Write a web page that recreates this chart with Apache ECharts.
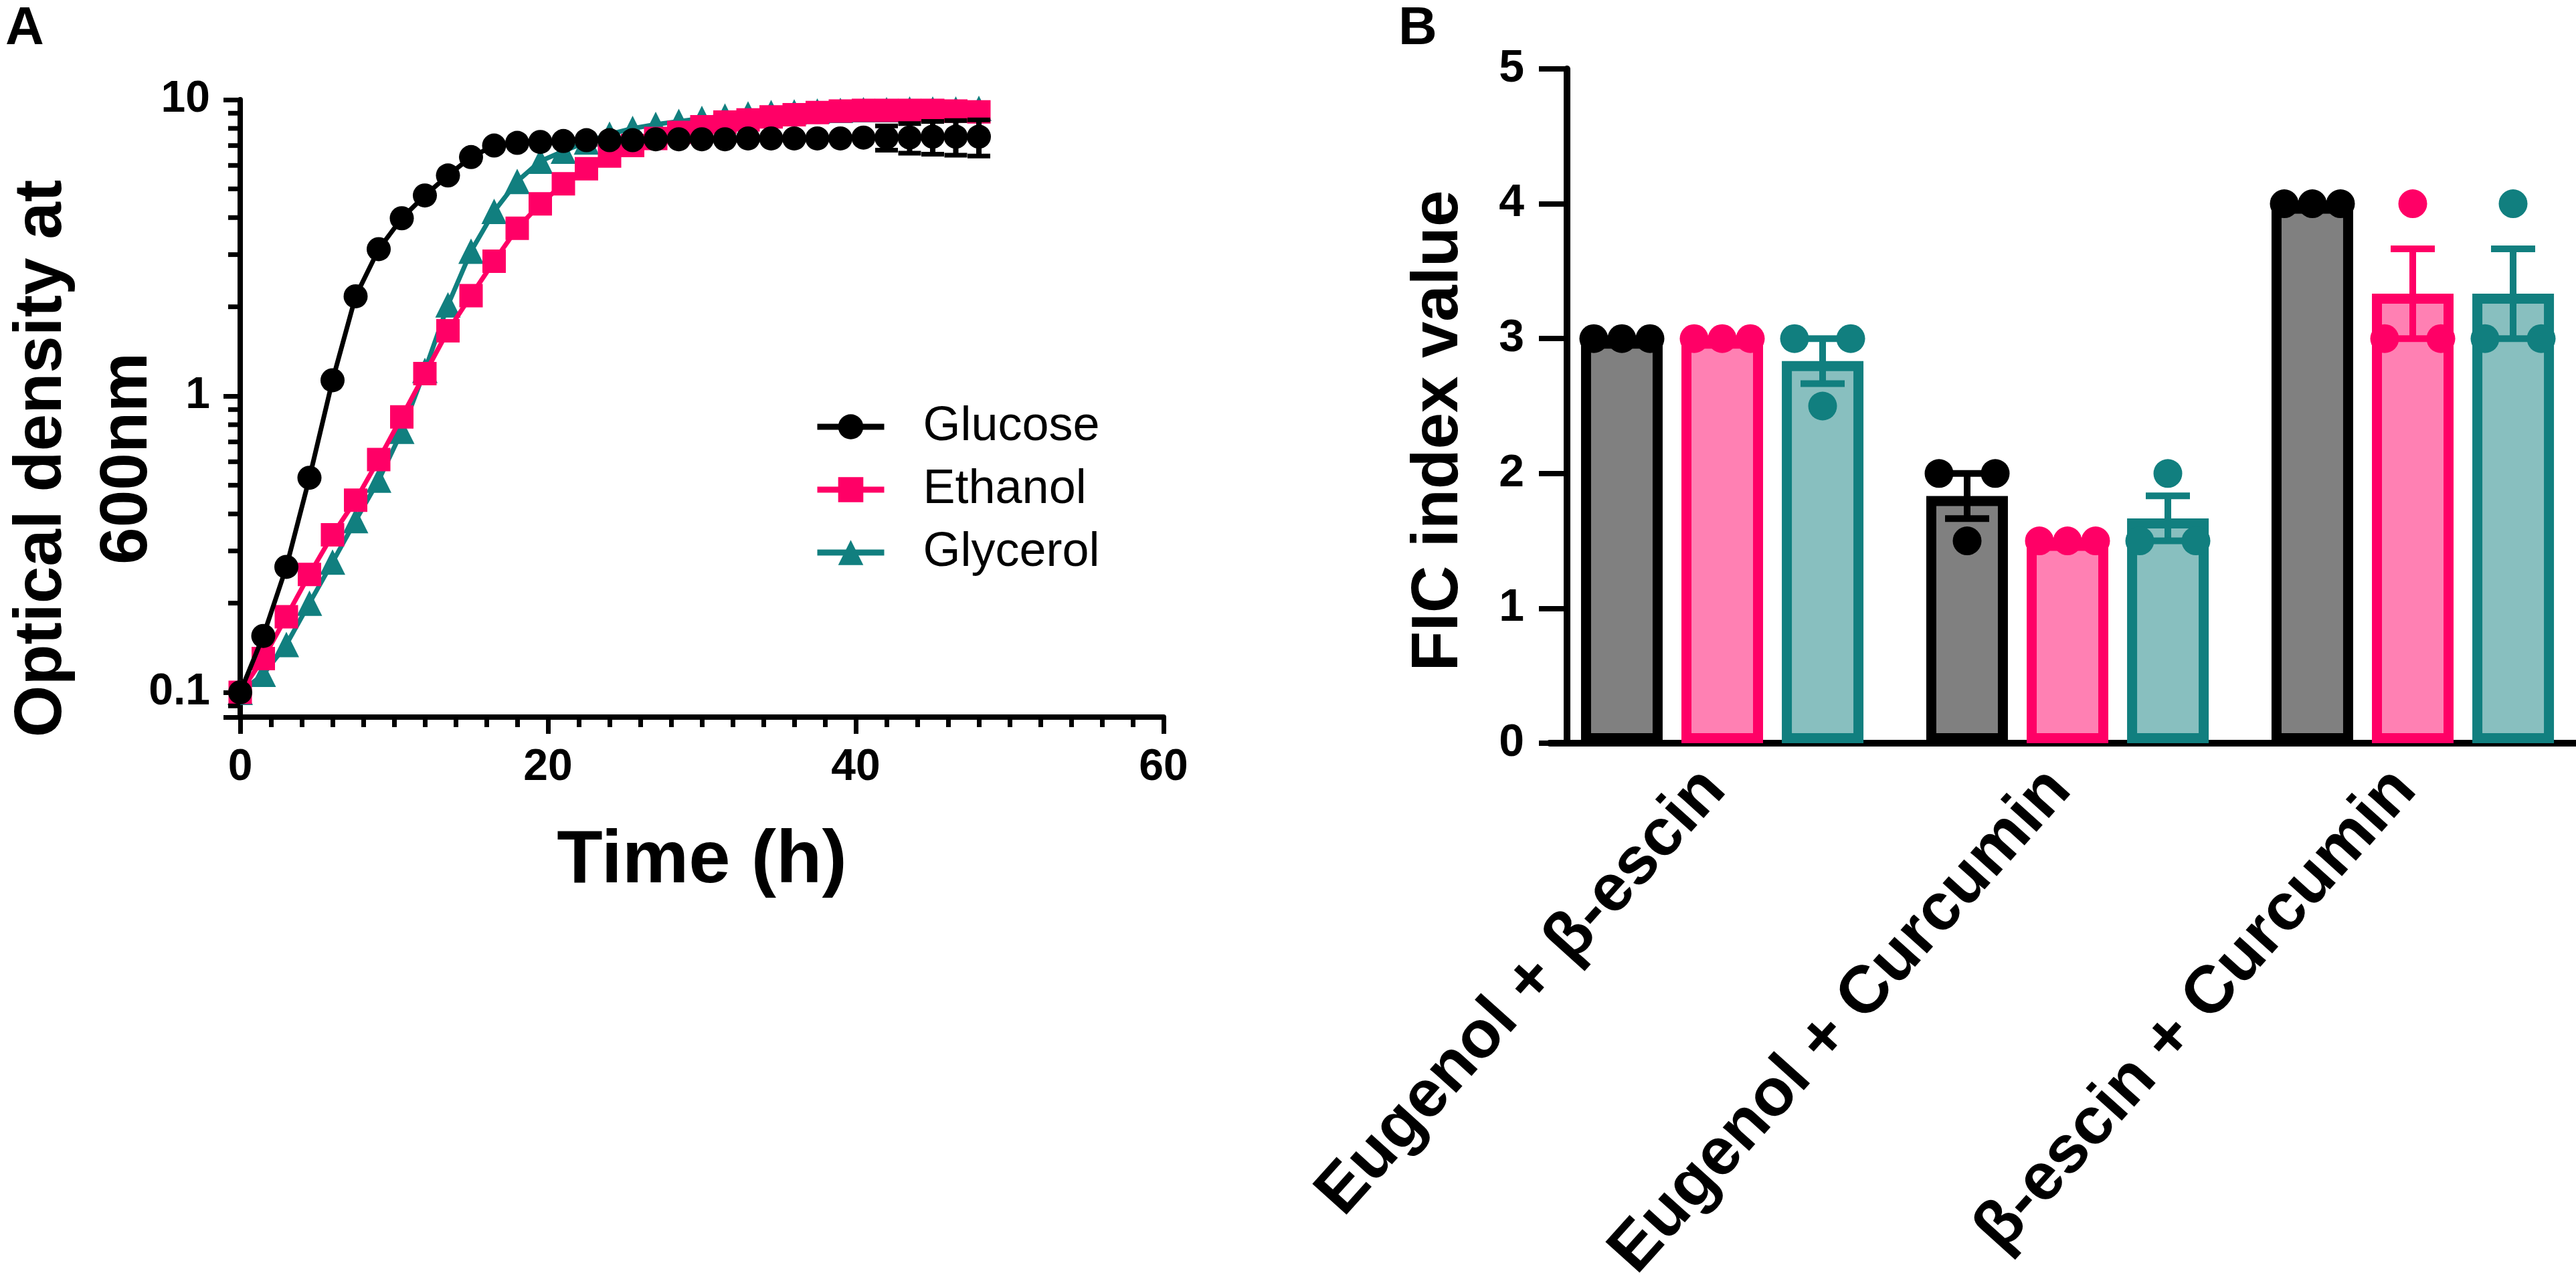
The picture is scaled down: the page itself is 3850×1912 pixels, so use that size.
<!DOCTYPE html>
<html>
<head>
<meta charset="utf-8">
<title>Growth curves and FIC index</title>
<script src="https://cdn.jsdelivr.net/npm/echarts@6/dist/echarts.min.js"></script>
<style>
  html, body { margin: 0; padding: 0; background: #fff; }
  #chart { width: 3850px; height: 1912px; }
</style>
</head>
<body>
<div id="chart"></div>
<script>
// ---- panel A: growth curves (OD600, log scale) ----
var time = [0, 1.5, 3, 4.5, 6, 7.5, 9, 10.5, 12, 13.5, 15, 16.5, 18, 19.5, 21, 22.5, 24,
            25.5, 27, 28.5, 30, 31.5, 33, 34.5, 36, 37.5, 39, 40.5, 42, 43.5, 45, 46.5, 48];
var glucose = [0.1, 0.155, 0.265, 0.53, 1.13, 2.17, 3.13, 3.98, 4.75, 5.55, 6.4, 7.0, 7.15,
               7.2, 7.25, 7.3, 7.3, 7.3, 7.35, 7.35, 7.35, 7.35, 7.4, 7.4, 7.4, 7.4, 7.4,
               7.45, 7.45, 7.45, 7.5, 7.5, 7.5];
var ethanol = [0.1, 0.13, 0.18, 0.25, 0.34, 0.445, 0.61, 0.85, 1.19, 1.66, 2.18, 2.85, 3.68,
               4.45, 5.2, 5.85, 6.45, 7.0, 7.4, 7.75, 8.1, 8.4, 8.55, 8.75, 8.9, 9.05, 9.15,
               9.2, 9.2, 9.2, 9.2, 9.15, 9.1];
var glycerol = [0.1, 0.115, 0.145, 0.2, 0.275, 0.38, 0.52, 0.76, 1.22, 2.03, 3.08, 4.2, 5.3,
                6.2, 6.7, 7.2, 7.65, 8.0, 8.25, 8.45, 8.65, 8.8, 8.95, 9.05, 9.1, 9.15, 9.2,
                9.25, 9.25, 9.3, 9.3, 9.3, 9.35];
// error bars visible on the last glucose points
var glucoseErrTime = [42, 43.5, 45, 46.5, 48];
var glucoseErr = [0.7, 0.85, 0.95, 1.0, 1.05];

var odTickLabels = [0.1, 1, 10];
var odMinorTicks = [0.09, 0.2, 0.3, 0.4, 0.5, 0.6, 0.7, 0.8, 0.9, 2, 3, 4, 5, 6, 7, 8, 9];

// ---- panel B: FIC index ----
var combos = ['Eugenol + β-escin', 'Eugenol + Curcumin', 'β-escin + Curcumin'];
var ficGlucoseMean = [3, 1.833, 4];
var ficGlucoseSem = [0, 0.167, 0];
var ficEthanolMean = [3, 1.5, 3.333];
var ficEthanolSem = [0, 0, 0.333];
var ficGlycerolMean = [2.833, 1.667, 3.333];
var ficGlycerolSem = [0.167, 0.167, 0.333];
// replicates, in left / centre / right order inside each bar
var ficGlucoseReps = [[3, 3, 3], [2, 1.5, 2], [4, 4, 4]];
var ficEthanolReps = [[3, 3, 3], [1.5, 1.5, 1.5], [3, 4, 3]];
var ficGlycerolReps = [[3, 2.5, 3], [1.5, 2, 1.5], [3, 4, 3]];

var FONT = "'Liberation Sans', Arial, sans-serif";
var BLACK = '#000000';
var PINK = '#ff0066';
var TEAL = '#117f7f';
var groupColors = [BLACK, PINK, TEAL];
var BAR_W = 122;
var BAR_STEP = 150;
var JITTER = 42;

function pairs(xs, ys) {
    return xs.map(function (x, i) { return [x, ys[i]]; });
}

var glucoseErrData = glucoseErrTime.map(function (t, i) {
    return [t, glucose[time.indexOf(t)], glucoseErr[i]];
});

var dotData = [];
[ficGlucoseReps, ficEthanolReps, ficGlycerolReps].forEach(function (reps, s) {
    reps.forEach(function (r, c) {
        r.forEach(function (v, j) {
            dotData.push([c, v, s, j]);
        });
    });
});

var semData = [];
[[ficGlucoseMean, ficGlucoseSem], [ficEthanolMean, ficEthanolSem], [ficGlycerolMean, ficGlycerolSem]]
    .forEach(function (g, s) {
        g[0].forEach(function (m, c) {
            if (g[1][c] > 0) {
                semData.push([c, m, g[1][c], s]);
            }
        });
    });

function vline(x, y1, y2, color, w) {
    return {type: 'line', shape: {x1: x, y1: y1, x2: x, y2: y2}, style: {stroke: color, lineWidth: w}};
}
function hline(x1, x2, y, color, w) {
    return {type: 'line', shape: {x1: x1, y1: y, x2: x2, y2: y}, style: {stroke: color, lineWidth: w}};
}

var option = {
    backgroundColor: '#ffffff',
    animation: false,
    textStyle: {fontFamily: FONT},
    graphic: [
        {type: 'text', left: 8, top: 4, style: {text: 'A', font: 'bold 80px ' + FONT, fill: '#000'}},
        {type: 'text', left: 2090, top: 4, style: {text: 'B', font: 'bold 80px ' + FONT, fill: '#000'}}
    ],
    legend: {
        data: ['Glucose', 'Ethanol', 'Glycerol'],
        orient: 'vertical',
        left: 1212,
        top: 597,
        itemWidth: 100,
        itemHeight: 47,
        itemGap: 22,
        selectedMode: false,
        lineStyle: {width: 9},
        textStyle: {fontSize: 72, color: '#000', fontFamily: FONT, padding: [0, 0, 0, 53]}
    },
    grid: [
        {left: 359, top: 149, width: 1380, height: 923, outerBoundsMode: 'none'},
        {left: 2316, top: 103, width: 1548, height: 1008, outerBoundsMode: 'none'}
    ],
    xAxis: [
        {
            type: 'value', gridIndex: 0, min: 0, max: 60, interval: 20,
            name: 'Time (h)', nameLocation: 'middle', nameGap: 160, nameMoveOverlap: false,
            nameTextStyle: {fontSize: 112, fontWeight: 'bold', color: '#000', fontFamily: FONT},
            axisLine: {onZero: false, lineStyle: {color: '#000', width: 8}},
            axisTick: {length: 25, lineStyle: {color: '#000', width: 7}},
            minorTick: {show: true, splitNumber: 10, length: 15, lineStyle: {color: '#000', width: 7}},
            splitLine: {show: false},
            axisLabel: {fontSize: 66, fontWeight: 'bold', color: '#000', margin: 43, fontFamily: FONT}
        },
        {
            type: 'category', gridIndex: 1, data: combos, boundaryGap: true,
            axisLine: {lineStyle: {color: '#000', width: 10}},
            axisTick: {alignWithLabel: true, length: 43, lineStyle: {color: '#000', width: 8}},
            splitLine: {show: false},
            axisLabel: {
                rotate: 48, interval: 0, fontSize: 100, fontWeight: 'bold', color: '#000',
                margin: 40, padding: [0, 18, 0, 0], fontFamily: FONT
            }
        }
    ],
    yAxis: [
        {
            type: 'log', gridIndex: 0, logBase: 10, min: 0.0825, max: 10,
            name: 'Optical density at\n600nm', nameLocation: 'middle', nameGap: 104, nameRotate: 90,
            nameMoveOverlap: false,
            nameTextStyle: {
                fontSize: 100, fontWeight: 'bold', color: '#000', lineHeight: 128,
                padding: [0, 150, 0, 0], fontFamily: FONT
            },
            axisLine: {lineStyle: {color: '#000', width: 8}},
            axisTick: {length: 25, lineStyle: {color: '#000', width: 7}},
            splitLine: {show: false},
            axisLabel: {
                fontSize: 66, fontWeight: 'bold', color: '#000', margin: 45, fontFamily: FONT,
                formatter: function (v) {
                    for (var i = 0; i < odTickLabels.length; i++) {
                        if (Math.abs(v - odTickLabels[i]) / odTickLabels[i] < 1e-6) {
                            return String(odTickLabels[i]);
                        }
                    }
                    return '';
                }
            }
        },
        {
            type: 'value', gridIndex: 1, min: 0, max: 5, interval: 1, offset: -26,
            name: 'FIC index value', nameLocation: 'middle', nameGap: 142, nameRotate: 90,
            nameMoveOverlap: false,
            nameTextStyle: {
                fontSize: 98, fontWeight: 'bold', color: '#000',
                padding: [0, 74, 0, 0], fontFamily: FONT
            },
            axisLine: {show: true, lineStyle: {color: '#000', width: 10}},
            axisTick: {show: true, length: 42, lineStyle: {color: '#000', width: 8}},
            splitLine: {show: false},
            axisLabel: {fontSize: 68, fontWeight: 'bold', color: '#000', margin: 64, fontFamily: FONT}
        }
    ],
    series: [
        // log-axis minor ticks (2..9 per decade)
        {
            type: 'custom', xAxisIndex: 0, yAxisIndex: 0, silent: true, clip: false, z: 5,
            data: odMinorTicks.map(function (v) { return [0, v]; }),
            encode: {x: 0, y: 1},
            renderItem: function (params, api) {
                var p = api.coord([0, api.value(1)]);
                return hline(p[0] - 18, p[0], p[1], '#000', 7);
            }
        },
        {
            name: 'Glycerol', type: 'line', xAxisIndex: 0, yAxisIndex: 0, z: 2,
            data: pairs(time, glycerol), symbol: 'triangle', symbolSize: 38,
            itemStyle: {color: TEAL}, lineStyle: {color: TEAL, width: 7}
        },
        {
            name: 'Ethanol', type: 'line', xAxisIndex: 0, yAxisIndex: 0, z: 3,
            data: pairs(time, ethanol), symbol: 'rect', symbolSize: 35,
            itemStyle: {color: PINK}, lineStyle: {color: PINK, width: 7}
        },
        {
            name: 'glucose-err', type: 'custom', xAxisIndex: 0, yAxisIndex: 0, z: 4, silent: true,
            data: glucoseErrData,
            encode: {x: 0, y: 1},
            renderItem: function (params, api) {
                var t = api.value(0), m = api.value(1), e = api.value(2);
                var top = api.coord([t, m + e]);
                var bot = api.coord([t, m - e]);
                return {
                    type: 'group',
                    children: [
                        vline(top[0], top[1], bot[1], '#000', 8),
                        hline(top[0] - 17, top[0] + 17, top[1], '#000', 7),
                        hline(bot[0] - 17, bot[0] + 17, bot[1], '#000', 7)
                    ]
                };
            }
        },
        {
            name: 'Glucose', type: 'line', xAxisIndex: 0, yAxisIndex: 0, z: 5,
            data: pairs(time, glucose), symbol: 'circle', symbolSize: 36,
            itemStyle: {color: BLACK}, lineStyle: {color: BLACK, width: 7}
        },
        // panel B bars
        {
            name: 'FIC Glucose', type: 'bar', xAxisIndex: 1, yAxisIndex: 1,
            data: ficGlucoseMean, barWidth: BAR_W, barGap: '23%',
            itemStyle: {color: '#808080', borderColor: BLACK, borderWidth: 15}
        },
        {
            name: 'FIC Ethanol', type: 'bar', xAxisIndex: 1, yAxisIndex: 1,
            data: ficEthanolMean, barWidth: BAR_W, barGap: '23%',
            itemStyle: {color: '#ff80b3', borderColor: PINK, borderWidth: 15}
        },
        {
            name: 'FIC Glycerol', type: 'bar', xAxisIndex: 1, yAxisIndex: 1,
            data: ficGlycerolMean, barWidth: BAR_W, barGap: '23%',
            itemStyle: {color: '#88bfbf', borderColor: TEAL, borderWidth: 15}
        },
        {
            name: 'FIC sem', type: 'custom', xAxisIndex: 1, yAxisIndex: 1, z: 6, silent: true,
            data: semData,
            encode: {x: 0, y: 1},
            renderItem: function (params, api) {
                var c = api.value(0), m = api.value(1), e = api.value(2), s = api.value(3);
                var top = api.coord([c, m + e]);
                var bot = api.coord([c, m - e]);
                var x = top[0] + (s - 1) * BAR_STEP;
                var col = groupColors[s];
                return {
                    type: 'group',
                    children: [
                        vline(x, top[1], bot[1], col, 10),
                        hline(x - 33, x + 33, top[1], col, 10),
                        hline(x - 33, x + 33, bot[1], col, 10)
                    ]
                };
            }
        },
        {
            name: 'FIC replicates', type: 'custom', xAxisIndex: 1, yAxisIndex: 1, z: 7, silent: true,
            data: dotData,
            encode: {x: 0, y: 1},
            renderItem: function (params, api) {
                var c = api.value(0), v = api.value(1), s = api.value(2), j = api.value(3);
                var p = api.coord([c, v]);
                return {
                    type: 'circle',
                    shape: {cx: p[0] + (s - 1) * BAR_STEP + (j - 1) * JITTER, cy: p[1], r: 21.5},
                    style: {fill: groupColors[s]}
                };
            }
        }
    ]
};

var chart = echarts.init(document.getElementById('chart'));
chart.setOption(option);
</script>
</body>
</html>
